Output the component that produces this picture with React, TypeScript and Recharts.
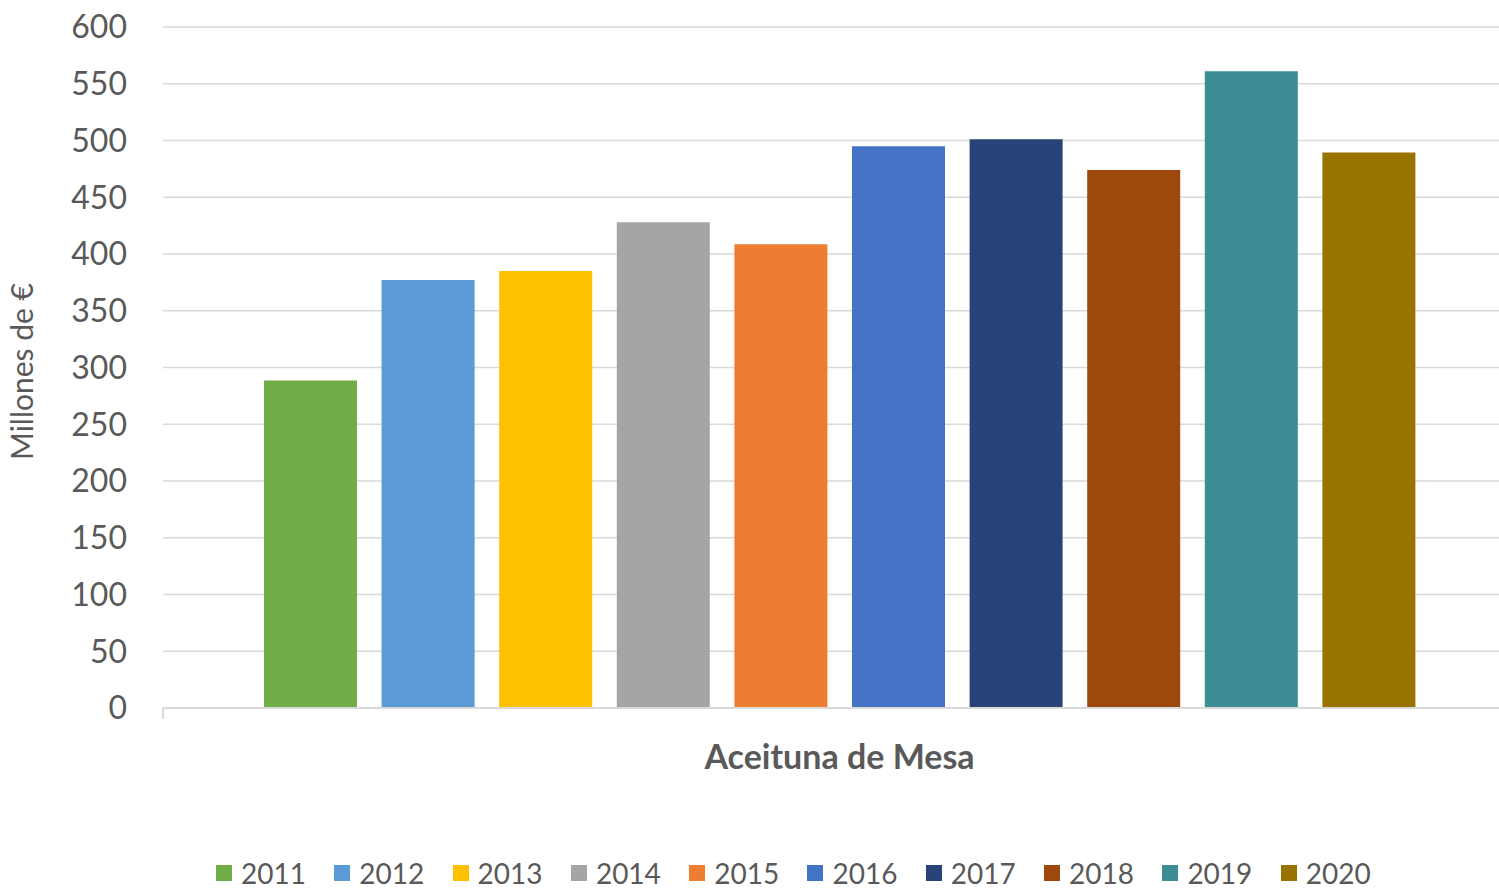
import { BarChart, Bar, XAxis, YAxis, CartesianGrid, Legend } from 'recharts';

const category = 'Aceituna de Mesa';
const years = ['2011', '2012', '2013', '2014', '2015', '2016', '2017', '2018', '2019', '2020'];
// Millones de € per year
const values = [288.5, 377, 385, 428, 408.5, 495, 501, 474, 561, 489.5];
const colors = [
  '#70AD47',
  '#5B9BD5',
  '#FFC000',
  '#A5A5A5',
  '#ED7D31',
  '#4472C4',
  '#264478',
  '#9E480E',
  '#3C8C93',
  '#997300',
];
const yTicks = [0, 50, 100, 150, 200, 250, 300, 350, 400, 450, 500, 550, 600];

const FONT = "Lato, 'Open Sans', sans-serif";
const TEXT = '#595959';
const GRID = '#D9D9D9';

const data = [
  {
    name: category,
    ...Object.fromEntries(years.map((y, i) => [y, values[i]])),
  },
];

function CategoryTick(props: any) {
  const { x, y, payload } = props;
  const half = payload?.offset ?? 0;
  const axisY = y - 37;
  return (
    <g>
      {/* category boundary ticks, like Excel */}
      <line x1={x - half} x2={x - half} y1={axisY} y2={axisY + 11} stroke={GRID} strokeWidth={2} />
      <line x1={x + half} x2={x + half} y1={axisY} y2={axisY + 11} stroke={GRID} strokeWidth={2} />
      <text
        x={x}
        y={y}
        dy="0.71em"
        textAnchor="middle"
        fill={TEXT}
        fontFamily={FONT}
        fontSize={34}
        fontWeight={700}
      >
        {payload.value}
      </text>
    </g>
  );
}

function YLabel(props: any) {
  const { viewBox } = props;
  const cx = viewBox.x + 33;
  const cy = viewBox.y + viewBox.height / 2 + 4;
  return (
    <text
      x={cx}
      y={cy}
      transform={`rotate(-90, ${cx}, ${cy})`}
      textAnchor="middle"
      fill={TEXT}
      fontFamily={FONT}
      fontSize={30}
    >
      Millones de €
    </text>
  );
}

function LegendContent(props: any) {
  const { payload } = props;
  return (
    <div
      style={{
        display: 'flex',
        height: 30,
        paddingLeft: 216,
        alignItems: 'center',
        fontFamily: FONT,
        fontSize: 28,
        color: TEXT,
      }}
    >
      {payload.map((p: any) => (
        <div
          key={p.value}
          style={{ width: 118.3, flex: 'none', display: 'flex', alignItems: 'center' }}
        >
          <span
            style={{
              width: 16,
              height: 16,
              background: p.color,
              display: 'inline-block',
              marginRight: 9,
            }}
          />
          <span style={{ lineHeight: '30px' }}>{p.value}</span>
        </div>
      ))}
    </div>
  );
}

export default function App() {
  return (
    <div
      style={{
        position: 'fixed',
        left: 0,
        top: 0,
        width: 1499,
        height: 892,
        overflow: 'hidden',
        background: '#fff',
      }}
    >
      <BarChart
        width={1586}
        height={900}
        data={data}
        margin={{ top: 27, right: 70, left: 0, bottom: 12 }}
        barSize={93}
        barGap={24.6}
      >
        <CartesianGrid vertical={false} stroke={GRID} strokeWidth={1.5} />
        <XAxis
          dataKey="name"
          height={150}
          tickLine={false}
          tickSize={0}
          tickMargin={37}
          axisLine={{ stroke: GRID, strokeWidth: 2 }}
          tick={<CategoryTick />}
        />
        <YAxis
          width={163}
          domain={[0, 600]}
          ticks={yTicks}
          interval={0}
          axisLine={false}
          tickLine={false}
          tickSize={0}
          tickMargin={36}
          tick={{ fontSize: 32, fill: TEXT, fontFamily: FONT }}
          label={<YLabel />}
        />
        <Legend verticalAlign="bottom" content={<LegendContent />} />
        {years.map((y, i) => (
          <Bar key={y} dataKey={y} name={y} fill={colors[i]} isAnimationActive={false} />
        ))}
      </BarChart>
    </div>
  );
}
